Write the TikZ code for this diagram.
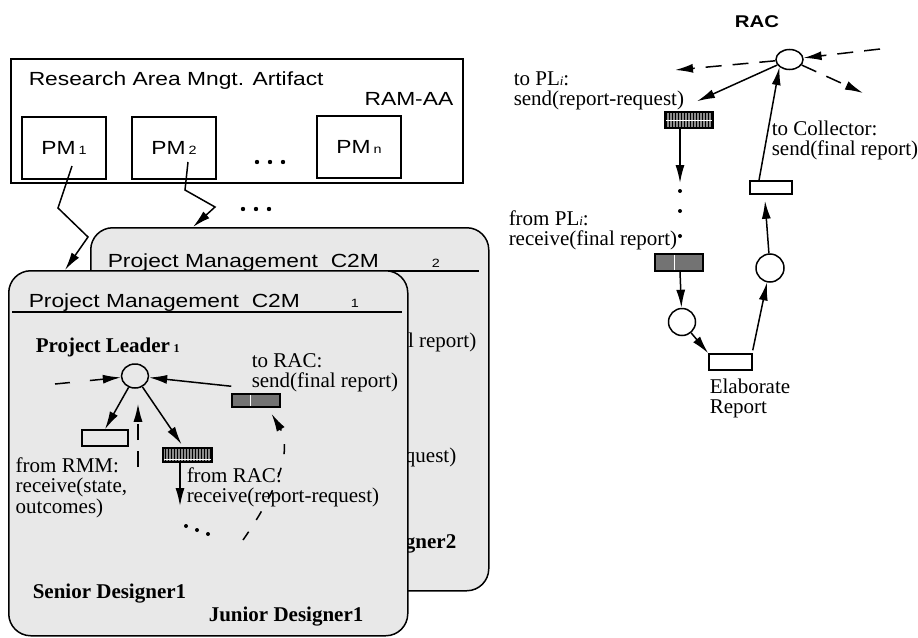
\documentclass[tikz,border=0pt]{standalone}
\usepackage{fontspec}
\setmainfont{Liberation Serif}
\newfontfamily\widesans[FakeStretch=1.2]{Liberation Sans}
\usetikzlibrary{arrows.meta,shapes.geometric,patterns}
\newcommand{\idx}[1]{{\fontsize{12}{12}\selectfont #1}}

\begin{document}
\begin{tikzpicture}[x=1pt, y=-1pt, line width=1.5pt,
  every node/.style={inner sep=0pt},
  arr/.style={-{Latex[length=18pt,width=9pt]}},
  darr/.style={arr, dash pattern=on 16pt off 11pt},
  place/.style={draw, ellipse, minimum width=27pt, minimum height=24pt},
  trans/.style={draw, rectangle, minimum width=47pt, minimum height=15pt},
  shadetrans/.style={trans, fill=black!55},
  stripetrans/.style={trans, preaction={fill=black!45}, pattern=vertical lines, pattern color=black},
  card/.style={draw, rounded corners=22pt, fill=black!9, anchor=north west},
  pmbox/.style={draw, minimum width=84pt, minimum height=62pt, font=\widesans\fontsize{19}{19}\selectfont},
  txt/.style={anchor=base west, align=left, font=\fontsize{21}{20}\selectfont},
  boldtxt/.style={anchor=base west, font=\fontsize{21}{21}\selectfont\bfseries},
  sanstxt/.style={anchor=base west, font=\widesans\fontsize{19}{19}\selectfont}]
\useasboundingbox (0,0) rectangle (918,637);

% research area artifact
\node[draw, minimum width=452pt, minimum height=124pt, anchor=north west] (ramaa) at (10,58) {};
\node[sanstxt] (ramtitle) at (28,85) {Research Area Mngt. Artifact};
\node[sanstxt, anchor=base east] (ramname) at (454,105) {RAM-AA};
\node[pmbox] (pm1) at (64,148) {\raisebox{-6pt}{PM\,\idx{1}}};
\node[pmbox] (pm2) at (174,148) {\raisebox{-6pt}{PM\,\idx{2}}};
\node[pmbox] (pmn) at (359,147) {\raisebox{-4pt}{PM\,\idx{n}}};
\foreach \x in {257,270,283} \fill (\x,162) circle (2.2pt);

% cards
\node[card, minimum width=398pt, minimum height=363pt] (card2) at (90,227) {};
\draw ([yshift=-44pt]card2.north west) -- ([xshift=-11pt,yshift=-44pt]card2.north east);
\node[sanstxt] (c2title) at (107,267) {Project Management\ \ C2M};
\node[sanstxt] (c2idx) at (431,267) {\idx{2}};
\node[txt, anchor=base east] (c2send) at (477,347) {send(final report)};
\node[txt, anchor=base east] (c2recv) at (457,462) {receive(report-request)};
\node[boldtxt, anchor=base east] (c2jd) at (457,548) {Junior Designer2};

\node[card, minimum width=399pt, minimum height=365pt] (card1) at (8,270) {};
\draw ([xshift=4pt,yshift=-42pt]card1.north west) -- ([xshift=-7pt,yshift=-42pt]card1.north east);
\node[sanstxt] (c1title) at (28,307) {Project Management\ \ C2M};
\node[sanstxt] (c1idx) at (350,307) {\idx{1}};

% artifact to cards
\draw[arr] ([shift={(8,18)}]pm1.center) -- (58,208) -- (88,237) -- ([xshift=57pt]card1.north west);
\draw[arr] ([shift={(14,14)}]pm2.center) -- (185,190) -- (215,207) -- ([xshift=103pt]card2.north west);
\foreach \x in {243,256,269} \fill (\x,209) circle (2.2pt);

% project leader net
\node[boldtxt] (plname) at (35,352) {Project Leader\,\idx{\bfseries 1}};
\node[place] (pl) at (135,376) {};
\node[trans, minimum width=46pt, minimum height=16pt] (fromrmm) at (105,438) {};
\node[stripetrans, minimum width=49pt, minimum height=14pt] (fromrac) at (187.5,455) {};
\node[shadetrans, minimum width=48pt, minimum height=13pt] (torac) at (256,400.5) {};
\draw[white, line width=1pt] ([xshift=-6pt,yshift=-1.5pt]torac.north) -- ([xshift=-6pt,yshift=1.5pt]torac.south);
\draw[white, line width=1pt] ([xshift=1.5pt,yshift=3pt]fromrac.south west) -- ([xshift=-1.5pt,yshift=3pt]fromrac.south east);
\node[txt] (toraclbl) at (251,387) {to RAC:\\send(final report)};
\node[txt, font=\fontsize{21}{20.5}\selectfont] (fromrmmlbl) at (15,513) {from RMM:\\receive(state,\\outcomes)};
\node[txt] (fromraclbl) at (186,502) {from RAC:\\receive(report-request)};
\node[boldtxt] (sd) at (32,598) {Senior Designer1};
\node[boldtxt] (jd) at (208,621) {Junior Designer1};

\coordinate (plin) at (55,384);
\coordinate (sdup) at (138,467);
\coordinate (racnext) at (180,506);
\coordinate (jdup) at (243,540);
\draw[darr, dash pattern=on 15pt off 20pt] (plin) -- (pl);
\draw[arr] ([yshift=7pt]torac.north west) -- (pl);
\draw[arr] (pl) -- (fromrmm.north);
\draw[arr] (pl) -- ([shift={(-6,-3)}]fromrac.north);
\draw[darr, shorten >=15pt] (sdup) -- (pl.south -| sdup);
\draw[arr] ([xshift=-7.5pt]fromrac.south) -- (racnext);
\fill (186,526) circle (2pt) (197,530) circle (2pt) (208,534) circle (2pt);
\draw[arr, dash pattern=on 10pt off 14pt, shorten >=7pt] (jdup) .. controls (285,480) and (290,445) .. ([xshift=12pt]torac.south);

% RAC net
\node[font=\widesans\bfseries\fontsize{17}{17}\selectfont] (racname) at (757,22) {RAC};
\node[place, minimum height=20pt] (rac) at (789.5,59.5) {};
\coordinate (racin) at (880,49);
\coordinate (racout1) at (675,70);
\coordinate (racout2) at (863,93);
\draw[darr] (racin) -- (rac);
\draw[darr] (rac) -- (racout1);
\draw[darr] (rac) -- (racout2);

\node[stripetrans, minimum width=48pt, minimum height=16pt] (topl) at (689,120) {};
\draw[white, line width=1pt] ([xshift=1.5pt]topl.west) -- ([xshift=-1.5pt]topl.east);
\node[txt] (topllbl) at (513,105) {to PL{\fontsize{13}{13}\selectfont\itshape i}:\\send(report-request)};
\draw[arr] (rac) -- ([shift={(8,-10)}]topl.north);
\coordinate (topldots) at (680,183);
\draw[arr] ([xshift=-9pt]topl.south) -- (topldots);
\foreach \y in {191,211,236} \fill (680,\y) circle (2pt);

\node[txt] (frompllbl) at (508,245) {from PL{\fontsize{13}{13}\selectfont\itshape i}:\\receive(final report)};
\node[shadetrans, minimum width=48pt, minimum height=17pt] (frompl) at (679,262.5) {};
\draw[white, line width=1pt] ([xshift=-5pt,yshift=-1.5pt]frompl.north) -- ([xshift=-5pt,yshift=1.5pt]frompl.south);
\node[place, minimum width=27pt, minimum height=27pt] (p1) at (682,322) {};
\node[trans, minimum width=43pt, minimum height=16pt] (elab) at (730.5,362) {};
\node[txt] (elablbl) at (709,413) {Elaborate\\Report};
\node[place, minimum width=28pt, minimum height=28pt] (p2) at (770,268) {};
\node[trans, minimum width=42pt, minimum height=13pt] (tocoll) at (771,187.5) {};
\node[txt] (tocolllbl) at (771,155) {to Collector:\\send(final report)};

\draw[arr] ([xshift=1pt]frompl.south) -- (p1);
\draw[arr] (p1) -- (elab.north west);
\draw[arr] ([yshift=3pt]elab.north east) -- (p2);
\draw[arr] (p2) -- ([shift={(-6,6)}]tocoll.south);
\draw[arr] ([xshift=-12pt]tocoll.north) -- (rac.south west);
\end{tikzpicture}
\end{document}
